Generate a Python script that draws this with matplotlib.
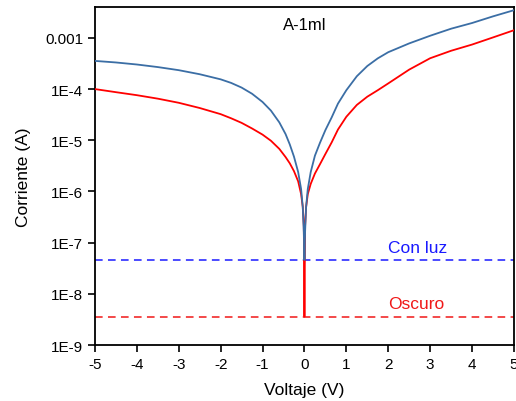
import matplotlib
matplotlib.use("Agg")
import matplotlib.pyplot as plt

voltage = [-5, -4.5, -4, -3.5, -3, -2.5, -2, -1.75, -1.5, -1.25, -1, -0.8, -0.6, -0.45,
           -0.35, -0.25, -0.15, -0.08, -0.04, -0.015, 0, 0.015, 0.04, 0.08, 0.15, 0.25,
           0.37, 0.5, 0.65, 0.8, 1.0, 1.25, 1.5, 1.75, 2.0, 2.5, 3.0, 3.5, 4.0, 4.5, 5.0]
current_luz = [3.55e-4, 3.31e-4, 3.02e-4, 2.69e-4, 2.34e-4, 1.95e-4, 1.55e-4, 1.32e-4,
               1.07e-4, 8.1e-5, 5.6e-5, 3.8e-5, 2.24e-5, 1.32e-5, 8.3e-6, 4.8e-6, 2.4e-6,
               1.12e-6, 5.0e-7, 1.6e-7, 4.6e-8,
               1.6e-7, 5.0e-7, 1.12e-6, 2.4e-6, 5.0e-6, 8.9e-6, 1.58e-5, 2.8e-5, 5.2e-5,
               9.5e-5, 1.78e-4, 2.82e-4, 3.98e-4, 5.25e-4, 7.8e-4, 1.1e-3, 1.51e-3,
               1.95e-3, 2.63e-3, 3.47e-3]
current_oscuro = [1.0e-4, 8.7e-5, 7.6e-5, 6.5e-5, 5.4e-5, 4.27e-5, 3.24e-5, 2.69e-5,
                  2.19e-5, 1.7e-5, 1.29e-5, 9.8e-6, 6.8e-6, 4.7e-6, 3.55e-6, 2.5e-6,
                  1.58e-6, 8.9e-7, 5.0e-7, 2.1e-7, 3.6e-9,
                  2.1e-7, 5.0e-7, 8.9e-7, 1.41e-6, 2.24e-6, 3.4e-6, 5.4e-6, 9.1e-6,
                  1.62e-5, 2.88e-5, 4.9e-5, 7.1e-5, 9.5e-5, 1.29e-4, 2.4e-4, 4.0e-4,
                  5.6e-4, 7.4e-4, 1.02e-3, 1.41e-3]
floor_luz = 4.6e-8
floor_oscuro = 3.6e-9

xticks = [-5, -4, -3, -2, -1, 0, 1, 2, 3, 4, 5]
yticks = [1e-9, 1e-8, 1e-7, 1e-6, 1e-5, 1e-4, 1e-3]
ytick_labels = ["1E-9", "1E-8", "1E-7", "1E-6", "1E-5", "1E-4", "0.001"]

plt.rcParams['font.family'] = ['Liberation Sans', 'DejaVu Sans']

fig = plt.figure(figsize=(5.16, 4.02), dpi=100)
ax = fig.add_axes([0.184, 0.139, 0.812, 0.841])

blue = '#3b6ea5'
red = '#ff0000'
ax.plot(voltage, current_oscuro, color=red, lw=1.3, zorder=3)
ax.plot(voltage, current_luz, color=blue, lw=1.3, zorder=4)
ax.axhline(floor_luz, color='#1a1aff', lw=1.1, ls=(0, (5, 3.5)), zorder=2)
ax.axhline(floor_oscuro, color='#f01818', lw=1.1, ls=(0, (5, 3.5)), zorder=2)

ax.set_yscale('log')
ax.set_xlim(-5, 5)
ax.set_ylim(1e-9, 4.0e-3)
ax.set_xticks(xticks)
ax.set_xticklabels([str(t) for t in xticks])
ax.set_yticks(yticks)
ax.set_yticklabels(ytick_labels)
ax.yaxis.set_minor_locator(matplotlib.ticker.NullLocator())
ax.tick_params(axis='both', which='major', direction='out', length=5, width=1.2,
               labelsize=11, top=False, right=False)
for s in ax.spines.values():
    s.set_linewidth(1.3)

ax.set_xlabel("Voltaje (V)", fontsize=12.5, labelpad=8)
ax.set_ylabel("Corriente (A)", fontsize=12.5, labelpad=10)

ax.text(0.0, 1.85e-3, "A-1ml", fontsize=12, ha='center', va='center')
ax.text(2.0, 8.1e-8, "Con luz", fontsize=12.5, ha='left', va='center', color='#1a1aff')
ax.text(2.0, 6.5e-9, "Oscuro", fontsize=12.5, ha='left', va='center', color='#f01818')

fig.savefig("out.png", dpi=100)
